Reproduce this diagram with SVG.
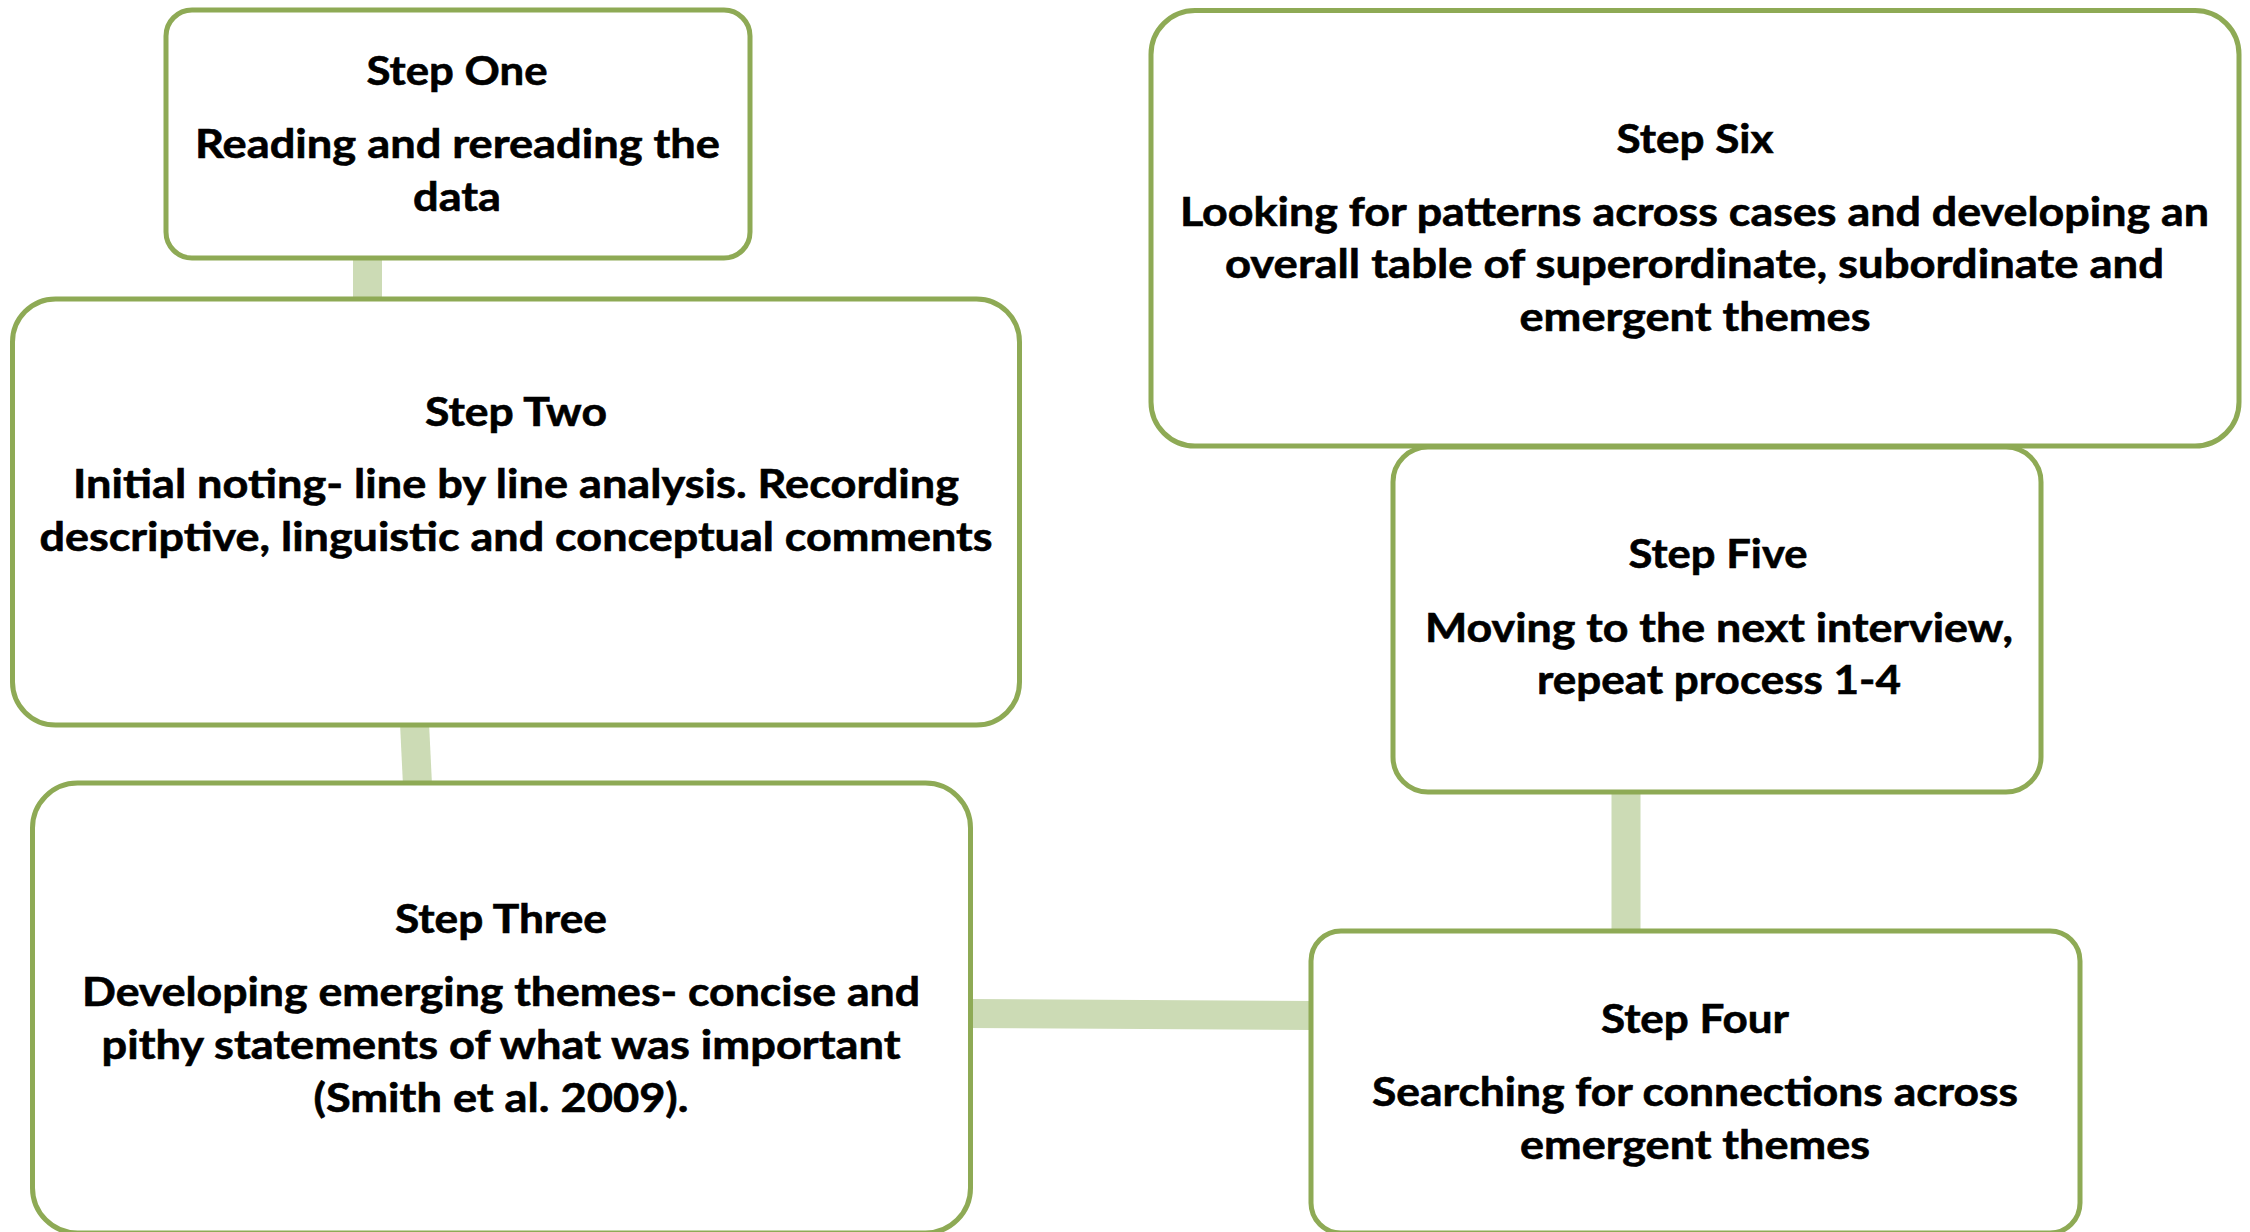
<svg xmlns="http://www.w3.org/2000/svg" width="2250" height="1232" viewBox="0 0 2250 1232">
  <style>
    .box { fill: #FFFFFF; stroke: #8EAA55; stroke-width: 5; }
    .conn { stroke: #CCDBB5; stroke-width: 29; fill: none; stroke-linecap: butt; }
    text { font-family: Lato, "Open Sans", "Liberation Sans", sans-serif; font-weight: 700; font-size: 40px; fill: #000000; stroke: #000000; stroke-width: 0.6; text-anchor: middle; }
  </style>
  <rect width="2250" height="1232" fill="#FFFFFF"/>
  <g id="connectors">
    <line class="conn" x1="367.5" y1="256" x2="367.5" y2="301"/>
    <line class="conn" x1="414.5" y1="723" x2="417.5" y2="785"/>
    <line class="conn" x1="968" y1="1013.5" x2="1313" y2="1015.5"/>
    <line class="conn" x1="1626" y1="790" x2="1626" y2="933"/>
  </g>
  <g id="step-one">
    <rect class="box" x="166" y="10" width="584" height="248" rx="26" ry="26"/>
    <text x="457" y="85" textLength="181" lengthAdjust="spacingAndGlyphs">Step One</text>
    <text x="457.5" y="158" textLength="525" lengthAdjust="spacingAndGlyphs">Reading and rereading the</text>
    <text x="457" y="211" textLength="88" lengthAdjust="spacingAndGlyphs">data</text>
  </g>
  <g id="step-two">
    <rect class="box" x="12.5" y="299" width="1007" height="426" rx="43" ry="43"/>
    <text x="516" y="426" textLength="182" lengthAdjust="spacingAndGlyphs">Step Two</text>
    <text x="516" y="498" textLength="886" lengthAdjust="spacingAndGlyphs">Initial noting- line by line analysis. Recording</text>
    <text x="516" y="551" textLength="953" lengthAdjust="spacingAndGlyphs">descriptive, linguistic and conceptual comments</text>
  </g>
  <g id="step-three">
    <rect class="box" x="32.5" y="783" width="938" height="450" rx="45" ry="45"/>
    <text x="501" y="933" textLength="212" lengthAdjust="spacingAndGlyphs">Step Three</text>
    <text x="501" y="1006" textLength="838" lengthAdjust="spacingAndGlyphs">Developing emerging themes- concise and</text>
    <text x="501" y="1059" textLength="799" lengthAdjust="spacingAndGlyphs">pithy statements of what was important</text>
    <text x="501" y="1112" textLength="375" lengthAdjust="spacingAndGlyphs">(Smith et al. 2009).</text>
  </g>
  <g id="step-four">
    <rect class="box" x="1311" y="931" width="769" height="302" rx="30" ry="30"/>
    <text x="1695" y="1033" textLength="188" lengthAdjust="spacingAndGlyphs">Step Four</text>
    <text x="1695" y="1106" textLength="646" lengthAdjust="spacingAndGlyphs">Searching for connections across</text>
    <text x="1695" y="1159" textLength="350" lengthAdjust="spacingAndGlyphs">emergent themes</text>
  </g>
  <g id="step-five">
    <rect class="box" x="1393" y="447" width="648" height="345" rx="35" ry="35"/>
    <text x="1718" y="568" textLength="179" lengthAdjust="spacingAndGlyphs">Step Five</text>
    <text x="1719" y="642" textLength="588" lengthAdjust="spacingAndGlyphs">Moving to the next interview,</text>
    <text x="1719" y="694" textLength="364" lengthAdjust="spacingAndGlyphs">repeat process 1-4</text>
  </g>
  <g id="step-six">
    <rect class="box" x="1151" y="10.5" width="1088" height="435.5" rx="44" ry="44"/>
    <text x="1695" y="153" textLength="157" lengthAdjust="spacingAndGlyphs">Step Six</text>
    <text x="1694.5" y="226" textLength="1029" lengthAdjust="spacingAndGlyphs">Looking for patterns across cases and developing an</text>
    <text x="1694.5" y="278" textLength="939" lengthAdjust="spacingAndGlyphs">overall table of superordinate, subordinate and</text>
    <text x="1695" y="331" textLength="351" lengthAdjust="spacingAndGlyphs">emergent themes</text>
  </g>
</svg>
